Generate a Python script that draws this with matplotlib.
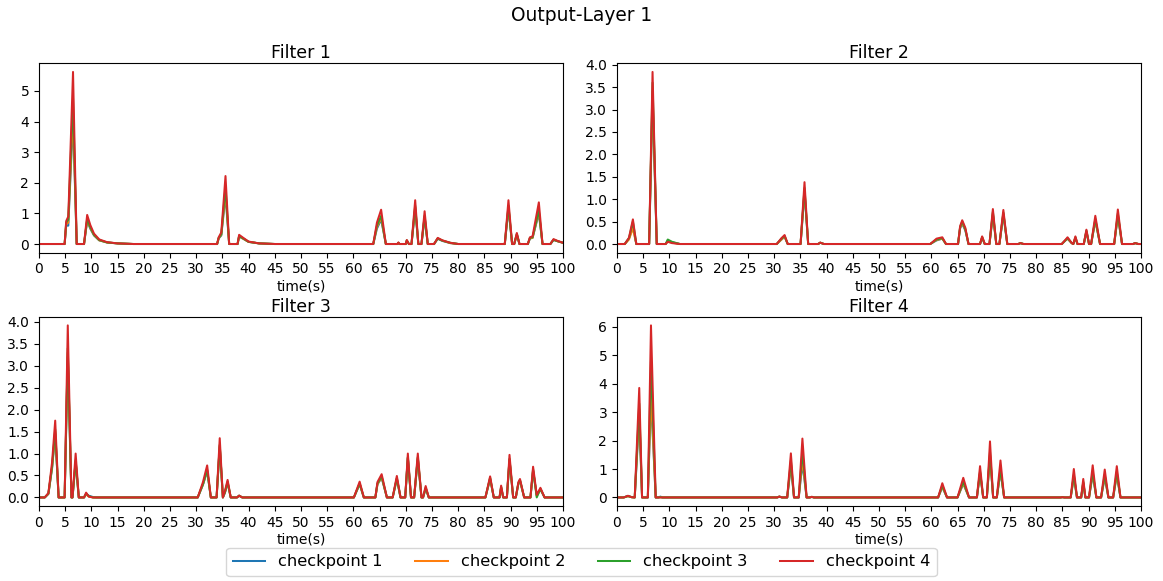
import matplotlib
matplotlib.use("Agg")
import matplotlib.pyplot as plt
from matplotlib.ticker import MultipleLocator

labels = ["checkpoint 1", "checkpoint 2", "checkpoint 3", "checkpoint 4"]
titles = ["Filter 1", "Filter 2", "Filter 3", "Filter 4"]
ytick_steps = [1, 0.5, 0.5, 1]

# Filter 1: vertex times and activation per checkpoint
f1_t = [0, 4.9, 5.2, 5.6, 6.5, 7.2, 8.6, 9.2, 9.8, 10.5, 11.5, 13, 15, 18,
        34.0, 34.3, 34.8, 35.6, 36.3, 37.9, 38.2, 39.0, 40.0, 42.0, 45.0,
        63.8, 64.5, 65.3, 66.2, 68.4, 68.6, 68.8, 70.0, 70.2, 70.6, 71.1, 71.8, 72.4, 73.0, 73.6, 74.2,
        75.4, 76.1, 77.0, 78.5, 80.0,
        88.9, 89.6, 90.3, 90.7, 91.2, 91.7, 93.3, 93.7, 94.2, 95.4, 96.1, 97.6, 98.2, 99.0, 100]
f1_c1 = [0, 0, 0.6, 0.6, 4.1, 0, 0, 0.75, 0.5, 0.28, 0.12, 0.05, 0.02, 0,
         0, 0.18, 0.28, 1.6, 0, 0, 0.24, 0.17, 0.07, 0.02, 0,
         0, 0.5, 0.8, 0, 0, 0.04, 0, 0, 0.1, 0, 0, 1.15, 0, 0, 0.85, 0,
         0, 0.17, 0.1, 0.03, 0,
         0, 1.15, 0, 0, 0.3, 0, 0, 0.18, 0.2, 1.0, 0, 0, 0.13, 0.09, 0.04]
f1_c2 = [0, 0, 0.65, 0.7, 4.3, 0, 0, 0.78, 0.52, 0.29, 0.12, 0.05, 0.02, 0,
         0, 0.19, 0.3, 1.7, 0, 0, 0.25, 0.17, 0.07, 0.02, 0,
         0, 0.55, 0.85, 0, 0, 0.04, 0, 0, 0.11, 0, 0, 1.2, 0, 0, 0.9, 0,
         0, 0.18, 0.11, 0.03, 0,
         0, 1.2, 0, 0, 0.31, 0, 0, 0.19, 0.2, 1.05, 0, 0, 0.14, 0.09, 0.04]
f1_c3 = [0, 0, 0.7, 0.8, 4.75, 0, 0, 0.82, 0.55, 0.30, 0.13, 0.05, 0.02, 0,
         0, 0.2, 0.32, 1.85, 0, 0, 0.26, 0.18, 0.07, 0.02, 0,
         0, 0.6, 0.92, 0, 0, 0.04, 0, 0, 0.12, 0, 0, 1.25, 0, 0, 0.92, 0,
         0, 0.18, 0.11, 0.04, 0,
         0, 1.25, 0, 0, 0.33, 0, 0, 0.2, 0.22, 1.1, 0, 0, 0.14, 0.09, 0.04]
f1_c4 = [0, 0, 0.75, 0.9, 5.62, 0, 0, 0.95, 0.62, 0.34, 0.15, 0.06, 0.02, 0,
         0, 0.22, 0.38, 2.22, 0, 0, 0.30, 0.20, 0.08, 0.02, 0,
         0, 0.70, 1.12, 0, 0, 0.05, 0, 0, 0.13, 0, 0, 1.43, 0, 0, 1.07, 0,
         0, 0.20, 0.12, 0.04, 0,
         0, 1.43, 0, 0, 0.36, 0, 0, 0.22, 0.25, 1.36, 0, 0, 0.16, 0.10, 0.04]

# Filter 2
f2_t = [0, 1.5, 2.3, 3.05, 3.7, 6.15, 6.8, 7.6, 9.3, 9.7, 10.5, 12.0,
        30.5, 31.4, 32.0, 32.6, 35.05, 35.8, 36.5, 38.4, 38.8, 39.5,
        59.8, 61.0, 62.1, 62.8, 65.1, 65.5, 65.9, 66.5, 67.1, 69.3, 69.7, 70.2, 71.1, 71.75, 72.4,
        73.0, 73.75, 74.5, 76.6, 77.0, 77.6,
        84.9, 85.5, 86.0, 86.8, 87.1, 87.5, 87.9, 89.1, 89.6, 90.1, 90.5, 91.3, 92.2, 94.9, 95.6,
        96.4, 98.5, 98.9, 99.5, 100]
f2_c1 = [0, 0, 0.12, 0.4, 0, 0, 3.3, 0, 0, 0.07, 0.04, 0,
         0, 0.1, 0.16, 0, 0, 1.15, 0, 0, 0.03, 0,
         0, 0.08, 0.12, 0, 0, 0.35, 0.45, 0.3, 0, 0, 0.14, 0, 0, 0.65, 0,
         0, 0.65, 0, 0, 0.02, 0,
         0, 0.07, 0.12, 0.02, 0, 0.13, 0, 0, 0.27, 0, 0, 0.52, 0, 0, 0.62,
         0, 0, 0.02, 0, 0]
f2_c2 = [0, 0, 0.1, 0.35, 0, 0, 3.4, 0, 0, 0.06, 0.03, 0,
         0, 0.1, 0.17, 0, 0, 1.2, 0, 0, 0.03, 0,
         0, 0.09, 0.12, 0, 0, 0.36, 0.47, 0.32, 0, 0, 0.15, 0, 0, 0.68, 0,
         0, 0.68, 0, 0, 0.02, 0,
         0, 0.07, 0.12, 0.02, 0, 0.14, 0, 0, 0.28, 0, 0, 0.53, 0, 0, 0.64,
         0, 0, 0.02, 0, 0]
f2_c3 = [0, 0, 0.13, 0.5, 0, 0, 3.6, 0, 0, 0.1, 0.05, 0,
         0, 0.12, 0.18, 0, 0, 1.25, 0, 0, 0.03, 0,
         0, 0.1, 0.13, 0, 0, 0.38, 0.5, 0.33, 0, 0, 0.15, 0, 0, 0.72, 0,
         0, 0.7, 0, 0, 0.02, 0,
         0, 0.07, 0.13, 0.02, 0, 0.15, 0, 0, 0.3, 0, 0, 0.56, 0, 0, 0.68,
         0, 0, 0.02, 0, 0]
f2_c4 = [0, 0, 0.14, 0.55, 0, 0, 3.84, 0, 0, 0.05, 0.02, 0,
         0, 0.13, 0.2, 0, 0, 1.38, 0, 0, 0.03, 0,
         0, 0.12, 0.15, 0, 0, 0.4, 0.53, 0.36, 0, 0, 0.17, 0, 0, 0.78, 0,
         0, 0.76, 0, 0, 0.02, 0,
         0, 0.08, 0.15, 0.02, 0, 0.17, 0, 0, 0.32, 0, 0, 0.63, 0, 0, 0.77,
         0, 0, 0.02, 0, 0]

# Filter 3
f3_t = [0, 1.1, 1.8, 2.5, 3.1, 3.75, 4.9, 5.5, 6.2, 6.4, 7.0, 7.6, 8.6, 9.0, 9.5, 10.3, 11.0,
        30.3, 31.3, 32.1, 32.8, 33.9, 34.5, 35.1, 35.5, 36.0, 36.6, 37.8, 38.2, 38.8,
        60.1, 61.2, 62.0, 64.2, 64.6, 65.4, 66.4, 67.5, 68.3, 69.0, 69.9, 70.4, 71.0, 71.6, 72.3,
        73.0, 73.3, 73.8, 74.4,
        85.2, 86.1, 86.8, 87.9, 88.2, 88.6, 89.3, 89.8, 90.5, 91.0, 91.5, 91.8, 92.6, 93.8, 94.3,
        95.0, 95.7, 96.5, 100]
f3_c1 = [0, 0, 0.08, 0.66, 1.45, 0, 0, 3.2, 0, 0, 0.8, 0, 0, 0.08, 0.04, 0.01, 0,
         0, 0.29, 0.6, 0, 0, 1.15, 0, 0.11, 0.33, 0, 0, 0.04, 0,
         0, 0.3, 0, 0, 0.3, 0.45, 0, 0, 0.42, 0, 0, 0.9, 0, 0, 0.88,
         0, 0, 0.2, 0,
         0, 0.42, 0, 0, 0.22, 0, 0, 0.85, 0, 0, 0.31, 0.38, 0, 0, 0.6,
         0.05, 0.18, 0, 0]
f3_c2 = [0, 0, 0.08, 0.68, 1.5, 0, 0, 3.3, 0, 0, 0.82, 0, 0, 0.07, 0.02, 0, 0,
         0, 0.3, 0.62, 0, 0, 1.18, 0, 0.12, 0.34, 0, 0, 0.04, 0,
         0, 0.31, 0, 0, 0.3, 0.46, 0, 0, 0.43, 0, 0, 0.9, 0, 0, 0.9,
         0, 0, 0.21, 0,
         0, 0.43, 0, 0, 0.23, 0, 0, 0.86, 0, 0, 0.32, 0.38, 0, 0, 0.62,
         0.03, 0.19, 0, 0]
f3_c3 = [0, 0, 0.09, 0.7, 1.55, 0, 0, 3.4, 0, 0, 0.85, 0, 0, 0.09, 0.03, 0, 0,
         0, 0.3, 0.63, 0, 0, 1.2, 0, 0.12, 0.36, 0, 0, 0.04, 0,
         0, 0.32, 0, 0, 0.32, 0.48, 0, 0, 0.44, 0, 0, 0.92, 0, 0, 0.92,
         0, 0, 0.22, 0,
         0, 0.45, 0, 0, 0.24, 0, 0, 0.88, 0, 0, 0.33, 0.4, 0, 0, 0.64,
         0.0, 0.2, 0, 0]
f3_c4 = [0, 0, 0.1, 0.8, 1.75, 0, 0, 3.92, 0, 0, 1.0, 0, 0, 0.11, 0.02, 0, 0,
         0, 0.35, 0.73, 0, 0, 1.35, 0, 0.15, 0.4, 0, 0, 0.04, 0,
         0, 0.36, 0, 0, 0.35, 0.53, 0, 0, 0.49, 0, 0, 1.0, 0, 0, 1.0,
         0, 0, 0.26, 0,
         0, 0.48, 0, 0, 0.27, 0, 0, 0.97, 0, 0, 0.35, 0.42, 0, 0, 0.7,
         0.06, 0.22, 0, 0]

# Filter 4
f4_t = [0, 1.3, 2.1, 2.8, 3.4, 4.26, 4.8, 5.9, 6.5, 7.4, 7.9, 8.3, 8.7,
        30.6, 31.0, 31.5, 32.5, 33.2, 33.8, 34.7, 35.4, 36.2, 36.8, 37.2, 37.6,
        61.3, 62.1, 63.0, 65.0, 66.1, 67.2, 68.7, 69.3, 69.9, 70.6, 71.2, 71.8, 72.5, 73.2, 73.9,
        84.7, 85.0, 85.4, 86.6, 87.2, 87.8, 88.6, 89.0, 89.4, 90.1, 90.8, 91.5, 92.4, 93.1, 93.8,
        94.7, 95.4, 96.1, 100]
f4_c1 = [0, 0, 0.05, 0.01, 0, 2.9, 0, 0, 3.5, 0, 0, 0.03, 0,
         0, 0.03, 0, 0, 1.1, 0, 0, 1.2, 0, 0, 0.02, 0,
         0, 0.36, 0, 0, 0.48, 0, 0, 0.85, 0, 0, 1.45, 0, 0, 0.9, 0,
         0, 0.01, 0, 0, 0.72, 0, 0, 0.5, 0, 0, 0.8, 0, 0, 0.7, 0,
         0, 0.78, 0, 0]
f4_c2 = [0, 0, 0.04, 0.01, 0, 3.1, 0, 0, 3.7, 0, 0, 0.01, 0,
         0, 0.03, 0, 0, 1.2, 0, 0, 1.35, 0, 0, 0.02, 0,
         0, 0.38, 0, 0, 0.5, 0, 0, 0.88, 0, 0, 1.5, 0, 0, 0.95, 0,
         0, 0.01, 0, 0, 0.75, 0, 0, 0.52, 0, 0, 0.85, 0, 0, 0.75, 0,
         0, 0.82, 0, 0]
f4_c3 = [0, 0, 0.05, 0.01, 0, 3.3, 0, 0, 4.78, 0, 0, 0.01, 0,
         0, 0.03, 0, 0, 1.3, 0, 0, 1.62, 0, 0, 0.02, 0,
         0, 0.42, 0, 0, 0.55, 0, 0, 0.92, 0, 0, 1.6, 0, 0, 1.0, 0,
         0, 0.01, 0, 0, 0.8, 0, 0, 0.55, 0, 0, 0.9, 0, 0, 0.8, 0,
         0, 0.9, 0, 0]
f4_c4 = [0, 0, 0.06, 0.01, 0, 3.85, 0, 0, 6.05, 0, 0, 0, 0,
         0, 0.03, 0, 0, 1.55, 0, 0, 2.07, 0, 0, 0.02, 0,
         0, 0.5, 0, 0, 0.69, 0, 0, 1.1, 0, 0, 1.97, 0, 0, 1.3, 0,
         0, 0.01, 0, 0, 1.0, 0, 0, 0.65, 0, 0, 1.13, 0, 0, 0.98, 0,
         0, 1.1, 0, 0]

filters = [
    (f1_t, [f1_c1, f1_c2, f1_c3, f1_c4]),
    (f2_t, [f2_c1, f2_c2, f2_c3, f2_c4]),
    (f3_t, [f3_c1, f3_c2, f3_c3, f3_c4]),
    (f4_t, [f4_c1, f4_c2, f4_c3, f4_c4]),
]

fig, axes = plt.subplots(2, 2, figsize=(11.63, 5.81), dpi=100)
fig.subplots_adjust(left=0.0335, right=0.981, top=0.891, bottom=0.129,
                    wspace=0.103, hspace=0.339)

for ax, title, step, (t, series) in zip(axes.flat, titles, ytick_steps, filters):
    for lab, y in zip(labels, series):
        assert len(y) == len(t)
        ax.plot(t, y, label=lab, linewidth=1.45)
    ax.set_title(title, fontsize=12.5, pad=3.5)
    ax.set_xlim(0, 100)
    ax.set_xticks(range(0, 101, 5))
    ax.yaxis.set_major_locator(MultipleLocator(step))
    ax.set_xlabel("time(s)", fontsize=10, labelpad=2)
    ax.tick_params(labelsize=10)

fig.suptitle("Output-Layer 1", fontsize=13.4, y=0.99)
handles, labs = axes[0, 0].get_legend_handles_labels()
fig.legend(handles, labs, loc="lower center", ncol=4, fontsize=11.7,
           bbox_to_anchor=(0.5, -0.005))

fig.savefig("out.png")
